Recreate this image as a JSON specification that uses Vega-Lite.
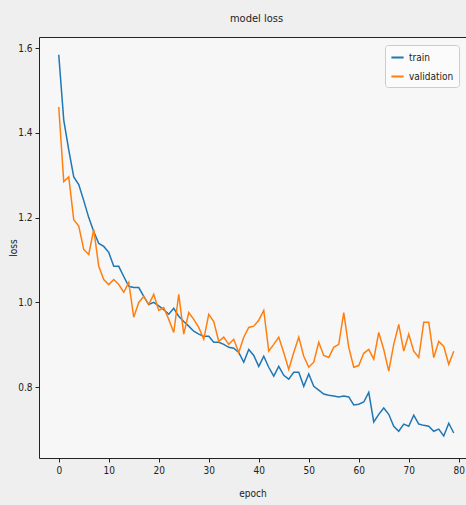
{
  "$schema": "https://vega.github.io/schema/vega-lite/v6.json",
  "autosize": {"type": "none"},
  "padding": {"left": 39, "top": 37, "right": 0, "bottom": 47},
  "width": 427,
  "height": 421,
  "background": "#efefef",
  "title": {"text": "model loss", "font": "DejaVu Sans Condensed", "fontSize": 11, "fontWeight": "normal", "color": "#222", "offset": 13, "dx": 4},
  "config": {
    "view": {"stroke": "#222", "strokeWidth": 1, "fill": "#f7f7f8"},
    "axis": {"labelFont": "DejaVu Sans Condensed", "titleFont": "DejaVu Sans Condensed", "labelFontSize": 10, "titleFontSize": 10, "titleFontWeight": "normal", "labelColor": "#222", "titleColor": "#222", "tickColor": "#222", "domain": false, "grid": false, "tickSize": 4}
  },
  "data": {"values": [
    {"epoch":0,"loss":1.584,"series":"train"},{"epoch":1,"loss":1.43,"series":"train"},{"epoch":2,"loss":1.36,"series":"train"},{"epoch":3,"loss":1.296,"series":"train"},{"epoch":4,"loss":1.278,"series":"train"},{"epoch":5,"loss":1.24,"series":"train"},{"epoch":6,"loss":1.2,"series":"train"},{"epoch":7,"loss":1.167,"series":"train"},{"epoch":8,"loss":1.139,"series":"train"},{"epoch":9,"loss":1.132,"series":"train"},
    {"epoch":10,"loss":1.118,"series":"train"},{"epoch":11,"loss":1.085,"series":"train"},{"epoch":12,"loss":1.085,"series":"train"},{"epoch":13,"loss":1.061,"series":"train"},{"epoch":14,"loss":1.038,"series":"train"},{"epoch":15,"loss":1.035,"series":"train"},{"epoch":16,"loss":1.035,"series":"train"},{"epoch":17,"loss":1.014,"series":"train"},{"epoch":18,"loss":0.995,"series":"train"},{"epoch":19,"loss":1.0,"series":"train"},
    {"epoch":20,"loss":0.992,"series":"train"},{"epoch":21,"loss":0.983,"series":"train"},{"epoch":22,"loss":0.972,"series":"train"},{"epoch":23,"loss":0.986,"series":"train"},{"epoch":24,"loss":0.967,"series":"train"},{"epoch":25,"loss":0.955,"series":"train"},{"epoch":26,"loss":0.944,"series":"train"},{"epoch":27,"loss":0.932,"series":"train"},{"epoch":28,"loss":0.925,"series":"train"},{"epoch":29,"loss":0.92,"series":"train"},
    {"epoch":30,"loss":0.92,"series":"train"},{"epoch":31,"loss":0.906,"series":"train"},{"epoch":32,"loss":0.906,"series":"train"},{"epoch":33,"loss":0.901,"series":"train"},{"epoch":34,"loss":0.894,"series":"train"},{"epoch":35,"loss":0.892,"series":"train"},{"epoch":36,"loss":0.882,"series":"train"},{"epoch":37,"loss":0.859,"series":"train"},{"epoch":38,"loss":0.889,"series":"train"},{"epoch":39,"loss":0.875,"series":"train"},
    {"epoch":40,"loss":0.849,"series":"train"},{"epoch":41,"loss":0.873,"series":"train"},{"epoch":42,"loss":0.847,"series":"train"},{"epoch":43,"loss":0.826,"series":"train"},{"epoch":44,"loss":0.849,"series":"train"},{"epoch":45,"loss":0.828,"series":"train"},{"epoch":46,"loss":0.819,"series":"train"},{"epoch":47,"loss":0.835,"series":"train"},{"epoch":48,"loss":0.835,"series":"train"},{"epoch":49,"loss":0.802,"series":"train"},
    {"epoch":50,"loss":0.831,"series":"train"},{"epoch":51,"loss":0.802,"series":"train"},{"epoch":52,"loss":0.793,"series":"train"},{"epoch":53,"loss":0.784,"series":"train"},{"epoch":54,"loss":0.781,"series":"train"},{"epoch":55,"loss":0.779,"series":"train"},{"epoch":56,"loss":0.777,"series":"train"},{"epoch":57,"loss":0.779,"series":"train"},{"epoch":58,"loss":0.777,"series":"train"},{"epoch":59,"loss":0.758,"series":"train"},
    {"epoch":60,"loss":0.76,"series":"train"},{"epoch":61,"loss":0.765,"series":"train"},{"epoch":62,"loss":0.788,"series":"train"},{"epoch":63,"loss":0.718,"series":"train"},{"epoch":64,"loss":0.736,"series":"train"},{"epoch":65,"loss":0.751,"series":"train"},{"epoch":66,"loss":0.736,"series":"train"},{"epoch":67,"loss":0.708,"series":"train"},{"epoch":68,"loss":0.696,"series":"train"},{"epoch":69,"loss":0.713,"series":"train"},
    {"epoch":70,"loss":0.708,"series":"train"},{"epoch":71,"loss":0.734,"series":"train"},{"epoch":72,"loss":0.713,"series":"train"},{"epoch":73,"loss":0.71,"series":"train"},{"epoch":74,"loss":0.708,"series":"train"},{"epoch":75,"loss":0.696,"series":"train"},{"epoch":76,"loss":0.701,"series":"train"},{"epoch":77,"loss":0.685,"series":"train"},{"epoch":78,"loss":0.715,"series":"train"},{"epoch":79,"loss":0.692,"series":"train"},
    {"epoch":0,"loss":1.461,"series":"validation"},{"epoch":1,"loss":1.285,"series":"validation"},{"epoch":2,"loss":1.296,"series":"validation"},{"epoch":3,"loss":1.195,"series":"validation"},{"epoch":4,"loss":1.18,"series":"validation"},{"epoch":5,"loss":1.125,"series":"validation"},{"epoch":6,"loss":1.113,"series":"validation"},{"epoch":7,"loss":1.172,"series":"validation"},{"epoch":8,"loss":1.085,"series":"validation"},{"epoch":9,"loss":1.054,"series":"validation"},
    {"epoch":10,"loss":1.042,"series":"validation"},{"epoch":11,"loss":1.054,"series":"validation"},{"epoch":12,"loss":1.042,"series":"validation"},{"epoch":13,"loss":1.024,"series":"validation"},{"epoch":14,"loss":1.047,"series":"validation"},{"epoch":15,"loss":0.965,"series":"validation"},{"epoch":16,"loss":1.0,"series":"validation"},{"epoch":17,"loss":1.014,"series":"validation"},{"epoch":18,"loss":0.995,"series":"validation"},{"epoch":19,"loss":1.019,"series":"validation"},
    {"epoch":20,"loss":0.981,"series":"validation"},{"epoch":21,"loss":0.988,"series":"validation"},{"epoch":22,"loss":0.96,"series":"validation"},{"epoch":23,"loss":0.929,"series":"validation"},{"epoch":24,"loss":1.019,"series":"validation"},{"epoch":25,"loss":0.925,"series":"validation"},{"epoch":26,"loss":0.976,"series":"validation"},{"epoch":27,"loss":0.96,"series":"validation"},{"epoch":28,"loss":0.941,"series":"validation"},{"epoch":29,"loss":0.913,"series":"validation"},
    {"epoch":30,"loss":0.972,"series":"validation"},{"epoch":31,"loss":0.955,"series":"validation"},{"epoch":32,"loss":0.908,"series":"validation"},{"epoch":33,"loss":0.918,"series":"validation"},{"epoch":34,"loss":0.901,"series":"validation"},{"epoch":35,"loss":0.913,"series":"validation"},{"epoch":36,"loss":0.882,"series":"validation"},{"epoch":37,"loss":0.918,"series":"validation"},{"epoch":38,"loss":0.941,"series":"validation"},{"epoch":39,"loss":0.944,"series":"validation"},
    {"epoch":40,"loss":0.958,"series":"validation"},{"epoch":41,"loss":0.981,"series":"validation"},{"epoch":42,"loss":0.885,"series":"validation"},{"epoch":43,"loss":0.901,"series":"validation"},{"epoch":44,"loss":0.918,"series":"validation"},{"epoch":45,"loss":0.882,"series":"validation"},{"epoch":46,"loss":0.842,"series":"validation"},{"epoch":47,"loss":0.882,"series":"validation"},{"epoch":48,"loss":0.918,"series":"validation"},{"epoch":49,"loss":0.873,"series":"validation"},
    {"epoch":50,"loss":0.847,"series":"validation"},{"epoch":51,"loss":0.859,"series":"validation"},{"epoch":52,"loss":0.906,"series":"validation"},{"epoch":53,"loss":0.875,"series":"validation"},{"epoch":54,"loss":0.87,"series":"validation"},{"epoch":55,"loss":0.894,"series":"validation"},{"epoch":56,"loss":0.901,"series":"validation"},{"epoch":57,"loss":0.976,"series":"validation"},{"epoch":58,"loss":0.894,"series":"validation"},{"epoch":59,"loss":0.847,"series":"validation"},
    {"epoch":60,"loss":0.851,"series":"validation"},{"epoch":61,"loss":0.88,"series":"validation"},{"epoch":62,"loss":0.889,"series":"validation"},{"epoch":63,"loss":0.866,"series":"validation"},{"epoch":64,"loss":0.929,"series":"validation"},{"epoch":65,"loss":0.889,"series":"validation"},{"epoch":66,"loss":0.838,"series":"validation"},{"epoch":67,"loss":0.901,"series":"validation"},{"epoch":68,"loss":0.948,"series":"validation"},{"epoch":69,"loss":0.885,"series":"validation"},
    {"epoch":70,"loss":0.925,"series":"validation"},{"epoch":71,"loss":0.885,"series":"validation"},{"epoch":72,"loss":0.87,"series":"validation"},{"epoch":73,"loss":0.953,"series":"validation"},{"epoch":74,"loss":0.953,"series":"validation"},{"epoch":75,"loss":0.87,"series":"validation"},{"epoch":76,"loss":0.908,"series":"validation"},{"epoch":77,"loss":0.896,"series":"validation"},{"epoch":78,"loss":0.854,"series":"validation"},{"epoch":79,"loss":0.885,"series":"validation"}
  ]},
  "mark": {"type": "line", "strokeWidth": 1.5, "clip": true},
  "encoding": {
    "x": {"field": "epoch", "type": "quantitative", "title": "epoch",
      "scale": {"domain": [-3.95, 81.45], "nice": false, "zero": false},
      "axis": {"values": [0, 10, 20, 30, 40, 50, 60, 70, 80], "labelPadding": 3, "titleY": 30}},
    "y": {"field": "loss", "type": "quantitative", "title": "loss",
      "scale": {"domain": [0.633, 1.626], "nice": false, "zero": false},
      "axis": {"values": [0.8, 1.0, 1.2, 1.4, 1.6], "format": ".1f", "labelPadding": 3, "titleX": -21}},
    "color": {"field": "series", "type": "nominal",
      "scale": {"domain": ["train", "validation"], "range": ["#1f77b4", "#ff7f0e"]},
      "legend": {"title": null, "orient": "none", "legendX": 346, "legendY": 8, "symbolType": "stroke", "symbolStrokeWidth": 2, "symbolSize": 150, "labelFont": "DejaVu Sans Condensed", "labelFontSize": 10, "labelColor": "#222", "fillColor": "#fbfbfb", "strokeColor": "#cccccc", "cornerRadius": 3, "padding": 5, "rowPadding": 6}}
  }
}
